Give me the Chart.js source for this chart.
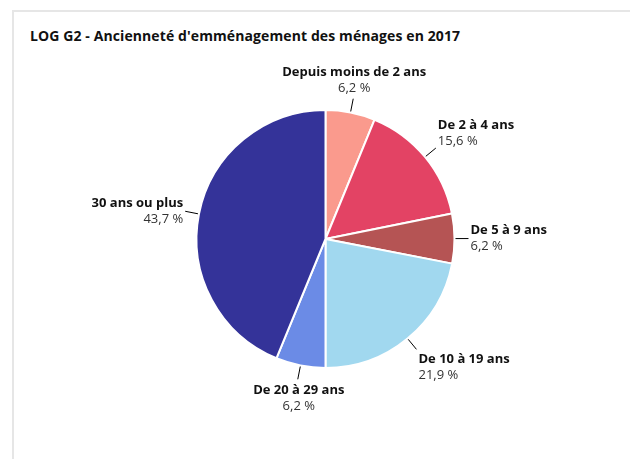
<!DOCTYPE html>
<html>
<head>
<meta charset="utf-8">
<script src="https://cdn.jsdelivr.net/npm/chart.js@4/dist/chart.umd.min.js"></script>
<style>
  html, body { margin: 0; padding: 0; background: #fff; }
  #wrap { position: relative; width: 630px; height: 459px; overflow: hidden; }
  #card { position: absolute; left: 12px; top: 10px; right: -4px; bottom: -4px;
          border-top: 2px solid #e6e6e6; border-left: 2px solid #e6e6e6; }
  #title { position: absolute; left: 30px; top: 26px; font: bold 14px "Open Sans", sans-serif;
           color: #111; line-height: 19px; white-space: nowrap; letter-spacing: 0.1px; }
  canvas { position: absolute; left: 0; top: 0; }
</style>
</head>
<body>
<div id="wrap">
  <div id="card"></div>
  <div id="title">LOG G2 - Ancienneté d'emménagement des ménages en 2017</div>
  <canvas id="c" width="630" height="459"></canvas>
</div>
<script>
const categories = ["Depuis moins de 2 ans", "De 2 à 4 ans", "De 5 à 9 ans", "De 10 à 19 ans", "De 20 à 29 ans", "30 ans ou plus"];
const shares = [6.2, 15.6, 6.2, 21.9, 6.2, 43.7];
const colors = ["#fa9a8d", "#e34364", "#b55454", "#a1d8ef", "#6b8be6", "#343399"];

const fmt = v => v.toFixed(1).replace('.', ',') + ' %';

const labelPlugin = {
  id: 'outLabels',
  afterDatasetsDraw(chart) {
    const ctx = chart.ctx;
    const meta = chart.getDatasetMeta(0);
    meta.data.forEach((arc, i) => {
      const p = arc.getProps(['x', 'y', 'startAngle', 'endAngle', 'outerRadius'], true);
      const mid = (p.startAngle + p.endAngle) / 2;
      const cx = Math.cos(mid), sy = Math.sin(mid);
      const r1 = p.outerRadius + 1, r2 = p.outerRadius + 14;
      const sx = p.x + cx * r1, syy = p.y + sy * r1;
      const ex = p.x + cx * r2, ey = p.y + sy * r2;
      ctx.save();
      ctx.strokeStyle = '#000';
      ctx.lineWidth = 1;
      ctx.beginPath();
      ctx.moveTo(sx, syy);
      ctx.lineTo(ex, ey);
      ctx.stroke();
      let align, tx, blockC;
      if (Math.abs(cx) < 0.3) {
        align = 'center'; tx = ex + 1;
        blockC = ey + sy * 19;
      } else {
        align = cx > 0 ? 'left' : 'right';
        tx = cx > 0 ? ex + 2 : ex - 2;
        blockC = ey + (Math.abs(sy) > 0.3 ? sy * 23 : 0);
      }
      ctx.textAlign = align;
      ctx.textBaseline = 'middle';
      ctx.fillStyle = '#111';
      ctx.font = 'bold 13px "Open Sans", sans-serif';
      ctx.fillText(categories[i], tx, blockC - 8);
      ctx.fillStyle = '#333';
      ctx.font = '13px "Open Sans", sans-serif';
      ctx.fillText(fmt(shares[i]), tx, blockC + 8);
      ctx.restore();
    });
  }
};

new Chart(document.getElementById('c'), {
  type: 'pie',
  data: {
    labels: categories,
    datasets: [{
      data: shares,
      backgroundColor: colors,
      borderColor: '#ffffff',
      borderWidth: 2
    }]
  },
  options: {
    responsive: false,
    animation: false,
    radius: 129,
    layout: { padding: { left: 41, right: 20, top: 39, bottom: 20 } },
    plugins: {
      legend: { display: false },
      tooltip: { enabled: false },
      title: { display: false }
    }
  },
  plugins: [labelPlugin]
});
</script>
</body>
</html>
